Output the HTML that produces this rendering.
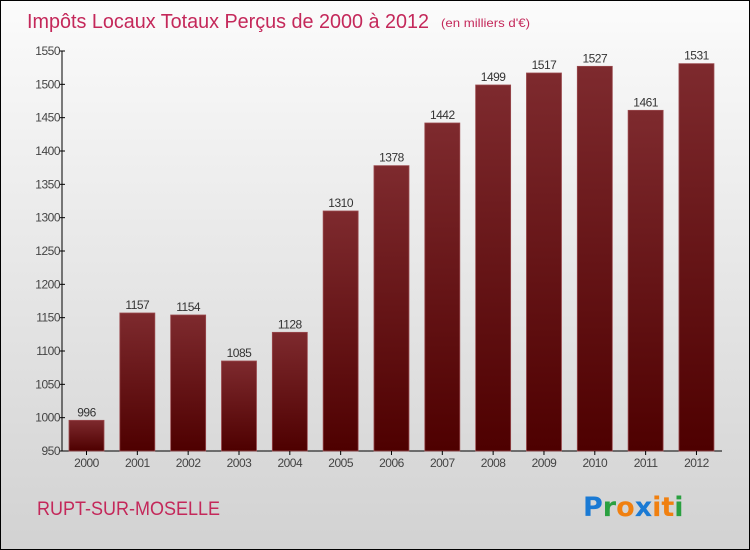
<!DOCTYPE html>
<html><head><meta charset="utf-8"><style>
body{margin:0;}
#c{position:relative;width:748px;height:548px;border:1px solid #000;background:linear-gradient(#fbfbfb,#d2d2d2);font-family:"Liberation Sans",sans-serif;overflow:hidden;}
</style></head><body>
<div id="c">
<svg id="s" width="748" height="548" style="position:absolute;left:0;top:0">
<defs><linearGradient id="g" x1="0" y1="0" x2="0" y2="1"><stop offset="0" stop-color="#7e2a2e"/><stop offset="1" stop-color="#4e0000"/></linearGradient></defs>
<text x="26" y="27" font-size="20" fill="#c4285a" textLength="402" lengthAdjust="spacingAndGlyphs">Impôts Locaux Totaux Perçus de 2000 à 2012</text>
<text x="440" y="26" font-size="12" fill="#c4285a" textLength="89" lengthAdjust="spacingAndGlyphs">(en milliers d'€)</text>
<text x="36" y="514" font-size="19" fill="#c4285a" textLength="183" lengthAdjust="spacingAndGlyphs">RUPT-SUR-MOSELLE</text>
<g font-size="27" font-weight="bold" font-family="'DejaVu Sans',sans-serif">
<text x="582" y="515"><tspan fill="#1a7ad4">P</tspan><tspan fill="#2aa040">r</tspan><tspan fill="#f08010">o</tspan><tspan fill="#1a7ad4">x</tspan><tspan fill="#f08010">i</tspan><tspan fill="#f08010">t</tspan><tspan fill="#2aa040">i</tspan></text></g>
<g id="plot"></g>
</svg>
</div>
<script>
const categories=["2000","2001","2002","2003","2004","2005","2006","2007","2008","2009","2010","2011","2012"];
const values=[996,1157,1154,1085,1128,1310,1378,1442,1499,1517,1527,1461,1531];
const ticks=[950,1000,1050,1100,1150,1200,1250,1300,1350,1400,1450,1500,1550];
const NS="http://www.w3.org/2000/svg";
const g=document.getElementById('plot');
const y0=450,y1=50,vmin=950,vmax=1550,x0=61,pitch=50.83,bw=35;
const y=v=>y0-(v-vmin)/(vmax-vmin)*(y0-y1);
const x=i=>68+i*pitch;
function mk(t,a){const e=document.createElementNS(NS,t);for(const k in a)e.setAttribute(k,a[k]);g.appendChild(e);return e;}
let ax=mk('line',{x1:x0,y1:y1,x2:x0,y2:y0,stroke:'#000'});


let bx=mk('line',{x1:x0,y1:y0,x2:721,y2:y0,stroke:'#000'});


ticks.forEach(t=>{
 let l=mk('line',{x1:x0-3,x2:x0+3,y1:y(t),y2:y(t),stroke:'#000'});
 
 
 let tx=mk('text',{x:x0-2,y:y(t)+4,'font-size':12,'text-anchor':'end',fill:'#444','letter-spacing':'-0.5'});
 tx.textContent=t;
 
 
});
values.forEach((v,i)=>{
 let r=mk('rect',{x:x(i),y:y(v),width:bw,height:y0-y(v),fill:'url(#g)',stroke:'#9a4a4e','stroke-width':0.8});
 
 
 let vl=mk('text',{x:x(i)+bw/2,y:y(v)-4,'font-size':12,'text-anchor':'middle',fill:'#333','letter-spacing':'-0.5'});
 vl.textContent=v;
 
 
 let tk=mk('line',{x1:x(i)+bw/2,x2:x(i)+bw/2,y1:y0,y2:y0+4,stroke:'#000'});
 
 
 let cl=mk('text',{x:x(i)+bw/2,y:y0+16,'font-size':12,'text-anchor':'middle',fill:'#444','letter-spacing':'-0.5'});
 cl.textContent=categories[i];
 
 
});
</script>
</body></html>
